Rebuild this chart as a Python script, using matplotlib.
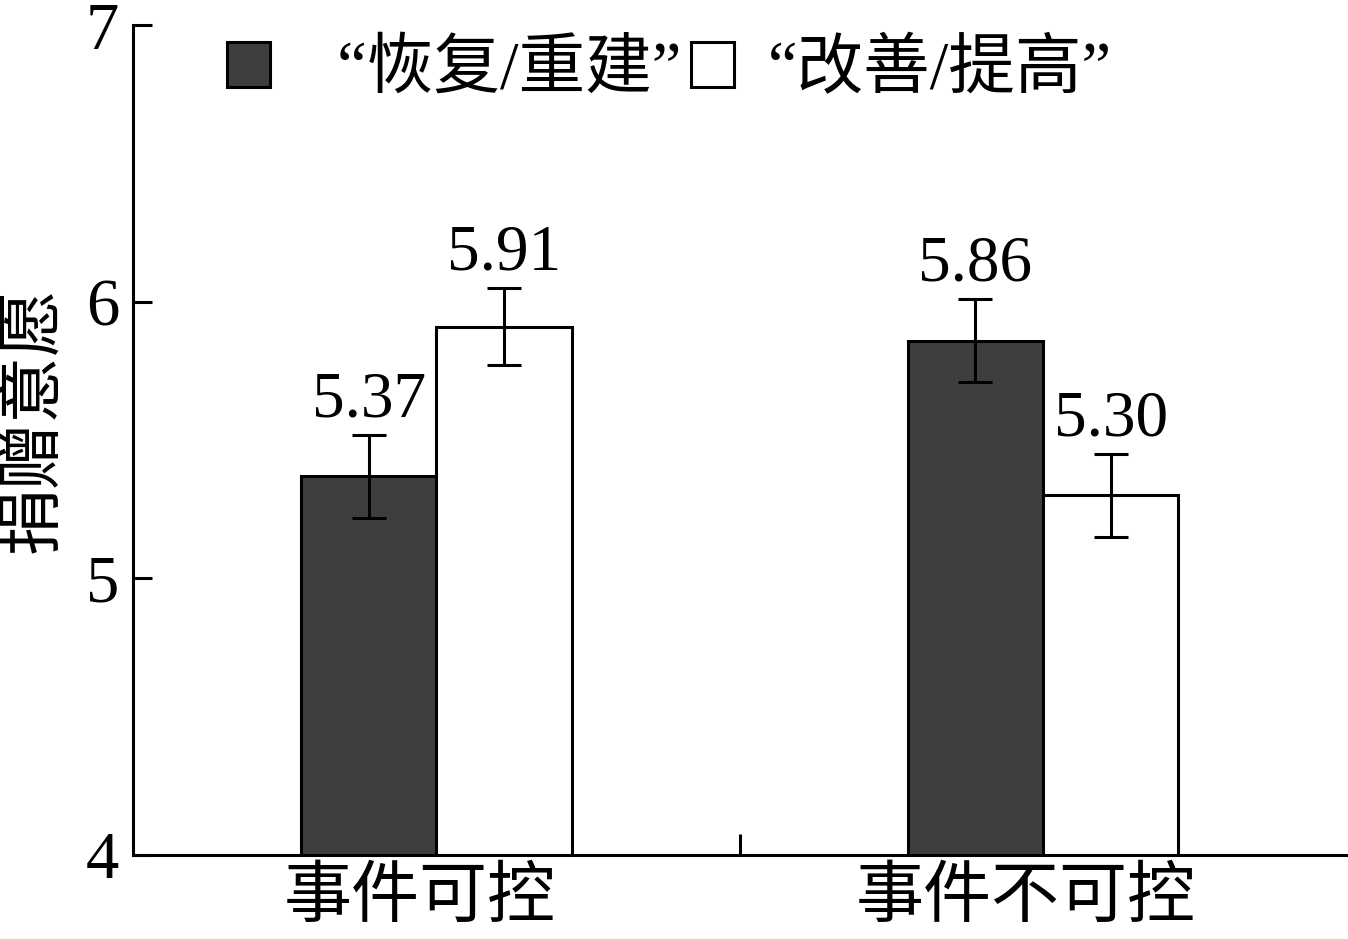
import numpy as np
import matplotlib.pyplot as plt
from matplotlib.transforms import ScaledTranslation

categories = ["事件可控", "事件不可控"]
series_names = ["“恢复/重建”", "“改善/提高”"]
restore_vals = [5.37, 5.86]
improve_vals = [5.91, 5.30]
restore_err = [0.15, 0.15]
improve_err = [0.14, 0.15]

plt.rcParams['font.family'] = ['Liberation Serif', 'Noto Sans CJK SC']
plt.rcParams['axes.linewidth'] = 2.2

fig = plt.figure(figsize=(13.48, 9.39), dpi=100)
ax = fig.add_axes([0.0987, 0.0895, 0.9, 0.8835])

x = np.arange(len(categories))
w = 0.223
dark = "#3f3d40"

b1 = ax.bar(x - w / 2, restore_vals, w, color=dark, edgecolor="black", linewidth=2.2,
            zorder=2)
b2 = ax.bar(x + w / 2, improve_vals, w, color="white", edgecolor="black", linewidth=2.2,
            zorder=2)

ax.errorbar(x - w / 2, restore_vals, yerr=restore_err, fmt="none", ecolor="black",
            elinewidth=2.2, capsize=12, capthick=2.2, zorder=3)
ax.errorbar(x + w / 2, improve_vals, yerr=improve_err, fmt="none", ecolor="black",
            elinewidth=2.2, capsize=12, capthick=2.2, zorder=3)

for xs, vals, errs in [(x - w / 2, restore_vals, restore_err), (x + w / 2, improve_vals, improve_err)]:
    for xi, v, e in zip(xs, vals, errs):
        ax.annotate(f"{v:.2f}", (xi, v + e), xytext=(0, 3), textcoords="offset points",
                    ha="center", va="bottom", fontsize=47)

ax.set_xlim(-0.5, 1.5)
ax.set_ylim(4, 7)
ax.set_yticks([4, 5, 6, 7])
ax.tick_params(axis="y", direction="in", length=14, width=2.2, labelsize=48, pad=10)
ax.set_xticks([0.5], minor=True)
ax.set_xticks(x)
ax.set_xticklabels(categories, fontsize=49)
ax.tick_params(axis="x", which="major", length=0, pad=10)
ax.tick_params(axis="x", which="minor", direction="in", length=15, width=2.2)
shift = ScaledTranslation(-0.17, 0, fig.dpi_scale_trans)
for lab in ax.get_xticklabels():
    lab.set_transform(lab.get_transform() + shift)
ax.spines["top"].set_visible(False)
ax.spines["right"].set_visible(False)

ax.set_ylabel("捐赠意愿", fontsize=48)
ax.yaxis.set_label_coords(-0.055, 0.524)

ax.legend([b1, b2], ["  " + series_names[0], series_names[1]],
          loc="upper left", bbox_to_anchor=(0.028, 1.055), ncol=2,
          frameon=False, fontsize=48, handlelength=0.65, handleheight=0.65,
          handletextpad=0.5, columnspacing=0.15)

fig.savefig("out.png", dpi=100)
